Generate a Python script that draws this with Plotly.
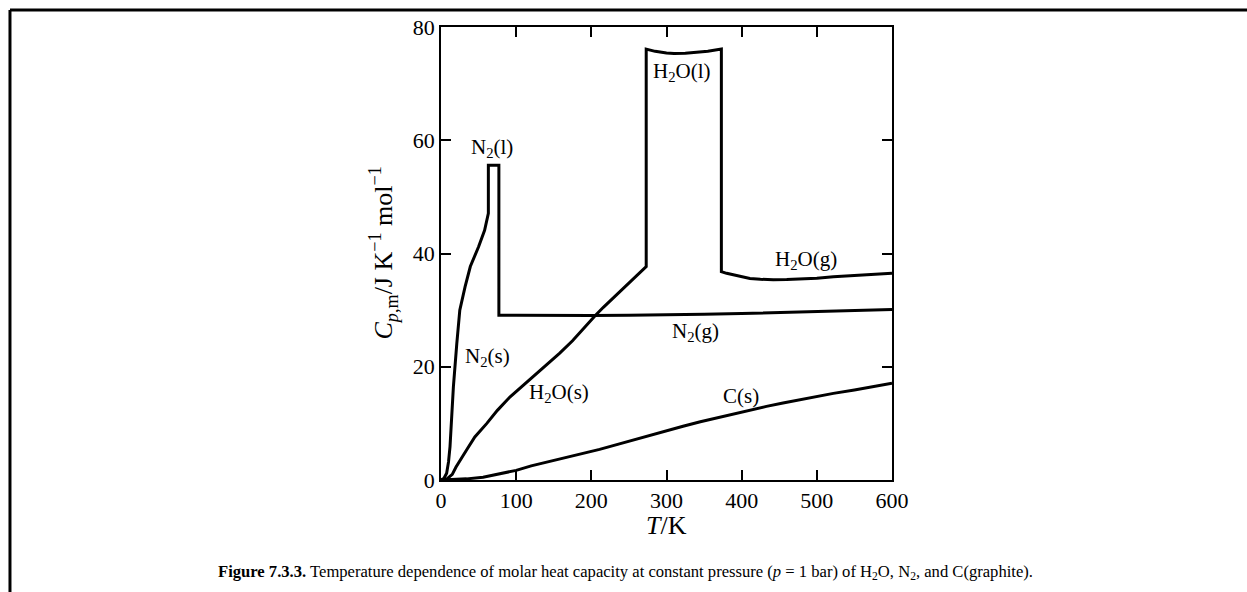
import plotly.graph_objects as go

# ---- data ----
n2_T = [0, 4, 7.5, 10, 12, 14, 16.5, 21, 25, 32, 39, 50, 58, 63,
        63, 77, 77, 100, 150, 200, 250, 300, 350, 400, 450, 500, 550, 600]
n2_Cp = [0, 0.3, 1.2, 3.2, 5.9, 11, 16.5, 24.1, 30, 34.1, 37.7, 41.2, 44.1, 47.1,
         55.6, 55.6, 29.1, 29.1, 29.05, 29.05, 29.1, 29.15, 29.25, 29.4, 29.55, 29.75, 29.95, 30.1]

h2o_T = [0, 8, 15, 20, 34, 45, 61, 75, 92, 110, 127, 143, 158, 175, 189, 205, 216, 230, 247, 260, 273,
         273, 285, 300, 310, 325, 340, 355, 373,
         373, 380, 390, 400, 411, 425, 442, 460, 478, 500, 522, 550, 575, 600]
h2o_Cp = [0, 0.2, 1.0, 2.3, 5.3, 7.6, 10.0, 12.3, 14.7, 16.8, 18.8, 20.6, 22.4, 24.6, 26.7, 29.0, 30.5, 32.3, 34.5, 36.1, 37.7,
          76.1, 75.7, 75.4, 75.3, 75.35, 75.5, 75.7, 76.1,
          36.8, 36.5, 36.2, 35.9, 35.6, 35.45, 35.35, 35.4, 35.5, 35.65, 35.9, 36.1, 36.3, 36.5]

c_T = [0, 20, 34, 56, 78, 100, 120, 145, 170, 190, 211, 235, 256, 278, 300, 322, 345, 367, 389, 411,
       433, 455, 478, 500, 522, 550, 575, 600]
c_Cp = [0, 0.05, 0.2, 0.5, 1.06, 1.7, 2.5, 3.3, 4.0, 4.7, 5.4, 6.3, 7.1, 7.9, 8.7, 9.5, 10.3, 11.0, 11.7, 12.4,
        13.0, 13.6, 14.2, 14.8, 15.3, 15.9, 16.5, 17.1]

label_text = ["N<sub>2</sub>(l)", "H<sub>2</sub>O(l)", "H<sub>2</sub>O(g)", "N<sub>2</sub>(g)",
              "C(s)", "N<sub>2</sub>(s)", "H<sub>2</sub>O(s)"]
label_T = [68, 321, 486, 339, 399, 62.5, 157]
label_Cp = [58.6, 72.1, 38.9, 26.1, 14.9, 21.7, 15.4]

x_ticks = [0, 100, 200, 300, 400, 500, 600]
y_ticks = [0, 20, 40, 60, 80]

FONT = "Liberation Serif"
fig = go.Figure()
line = dict(color="black", width=3)
fig.add_trace(go.Scatter(x=n2_T, y=n2_Cp, mode="lines", line=line, name="N2"))
fig.add_trace(go.Scatter(x=h2o_T, y=h2o_Cp, mode="lines", line=line, name="H2O"))
fig.add_trace(go.Scatter(x=c_T, y=c_Cp, mode="lines", line=line, name="C"))

annotations = []
for t, xx, yy in zip(label_text, label_T, label_Cp):
    annotations.append(dict(x=xx, y=yy, xref="x", yref="y", text=t, showarrow=False,
                            xanchor="center", yanchor="middle",
                            font=dict(family=FONT, size=21, color="black")))

# axis titles
annotations.append(dict(x=0.499, y=-0.1, xref="paper", yref="paper", text="<i>T</i>/K",
                        xanchor="center", yanchor="middle",
                        showarrow=False, font=dict(family=FONT, size=26, color="black")))
annotations.append(dict(x=-0.1286, y=0.50, xref="paper", yref="paper",
                        text="<i>C</i><sub><i>p</i>,m</sub>/J K<sup>−1</sup> mol<sup>−1</sup>",
                        xanchor="center", yanchor="middle",
                        textangle=-90, showarrow=False, font=dict(family=FONT, size=26, color="black")))
# caption
annotations.append(dict(x=0.408, y=-0.205, xref="paper", yref="paper",
                        xanchor="center", yanchor="middle",
                        text="<b>Figure 7.3.3.</b> Temperature dependence of molar heat capacity at constant pressure "
                             "(<i>p</i> = 1 bar) of H<sub>2</sub>O, N<sub>2</sub>, and C(graphite).",
                        showarrow=False, font=dict(family=FONT, size=16.6, color="black")))

axis_common = dict(showgrid=False, zeroline=False, showline=True, linecolor="black", linewidth=1.5,
                   mirror="ticks", ticks="inside", ticklen=10, tickwidth=1.5, tickcolor="black",
                   tickfont=dict(family=FONT, size=22, color="black"))

fig.update_layout(
    width=1247, height=592,
    margin=dict(l=441, r=355, t=27, b=112),
    paper_bgcolor="white", plot_bgcolor="white",
    showlegend=False,
    xaxis=dict(range=[0, 600], tickvals=x_ticks, ticktext=[str(v) for v in x_ticks], **axis_common),
    yaxis=dict(range=[0, 80], tickvals=y_ticks, ticktext=[str(v) for v in y_ticks], **axis_common),
    annotations=annotations,
    shapes=[
        dict(type="line", xref="paper", yref="paper", x0=-0.9557, x1=1.8, y0=1.0375, y1=1.0375,
             line=dict(color="black", width=3)),
        dict(type="line", xref="paper", yref="paper", x0=-0.9557, x1=-0.9557, y0=1.0375, y1=-0.26,
             line=dict(color="black", width=3)),
    ],
)

fig.write_html("out.html", config={"displayModeBar": False},
               post_script="document.body.style.margin='0';document.body.style.overflow='hidden';")
